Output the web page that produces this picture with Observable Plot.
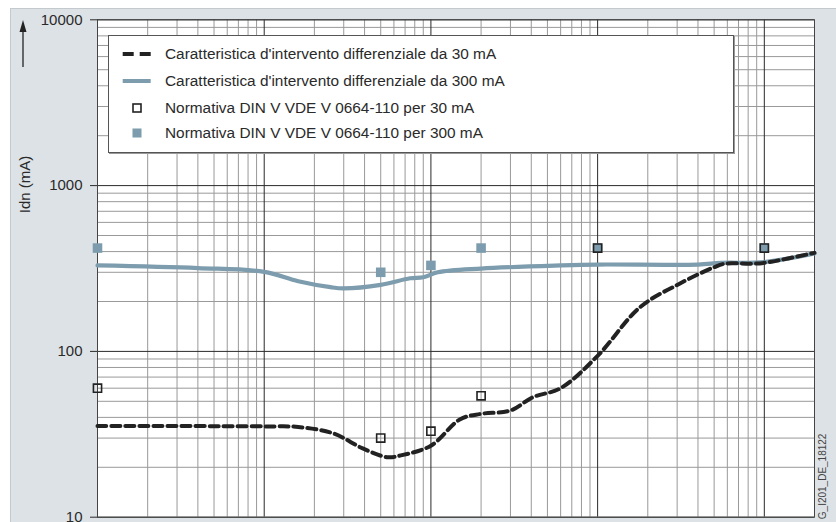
<!DOCTYPE html>
<html>
<head>
<meta charset="utf-8">
<script src="https://cdn.jsdelivr.net/npm/d3@7"></script>
<script src="https://cdn.jsdelivr.net/npm/@observablehq/plot@0.6"></script>
<style>
  html, body { margin: 0; padding: 0; background: #fff; }
  body { width: 836px; height: 522px; position: relative; overflow: hidden; font-family: "Liberation Sans", Arial, sans-serif; }
  #panel { position: absolute; left: 10px; top: 8px; width: 826px; height: 514px; background: #dde2e6; border-top: 1px solid #c4c9cd; border-left: 1px solid #c4c9cd; box-sizing: border-box; }
  #chart { position: absolute; left: 10px; top: 8px; }
  #legend { position: absolute; left: 108px; top: 35px; width: 626px; height: 118px; background: #fff; border: 1px solid #555; box-shadow: 1px 1px 0 #999; box-sizing: border-box; }
  .row { position: absolute; left: 0; height: 20px; display: flex; align-items: center; font-size: 15.4px; color: #2a2a2a; white-space: nowrap; }
  .row svg { width: 56px; height: 20px; margin-left: 0; flex: none; }
  #arrow { position: absolute; left: 0; top: 0; }
</style>
</head>
<body>
<div id="panel"></div>
<div id="chart"></div>
<svg id="arrow" width="40" height="80">
  <line x1="23" y1="67" x2="23" y2="30" stroke="#222" stroke-width="1.3"/>
  <polygon points="23,20 19.5,32 26.5,32" fill="#222"/>
</svg>
<div id="legend"></div>
<script>
// frequency (Hz) and tripping current (mA)
const curve30x = [1, 10, 16, 26, 39, 55, 66, 100, 150, 200, 300, 410, 600, 1000, 1800, 3100, 5000, 5800, 8300, 10000, 20000];
const curve30y = [35.5, 35.3, 35, 32, 26, 23, 23.6, 27, 39, 42, 44, 53, 60, 94, 185, 256, 322, 338, 338, 342, 393];
const curve300x = [1, 4, 10, 16, 25, 30, 50, 75, 90, 110, 200, 600, 1000, 4000, 5500, 10000, 20000];
const curve300y = [330, 318, 302, 265, 244, 240, 252, 276, 280, 300, 316, 330, 334, 334, 342, 346, 390];
const norm30x = [1, 50, 100, 200, 1000, 10000];
const norm30y = [60, 30, 33, 54, 420, 420];
const norm300x = [1, 50, 100, 200, 1000, 10000];
const norm300y = [420, 300, 330, 420, 420, 420];
const yTicks = [10, 100, 1000, 10000];
const seriesLabels = [
  "Caratteristica d'intervento differenziale da 30 mA",
  "Caratteristica d'intervento differenziale da 300 mA",
  "Normativa DIN V VDE V 0664-110 per 30 mA",
  "Normativa DIN V VDE V 0664-110 per 300 mA"
];
const yLabel = "Idn (mA)";
const codeLabel = "G_I201_DE_18122";

const BLUE = "#7d9cad";
const BLACK = "#222";

const c30 = curve30x.map((x, i) => ({x, y: curve30y[i]}));
const c300 = curve300x.map((x, i) => ({x, y: curve300y[i]}));
const n30 = norm30x.map((x, i) => ({x, y: norm30y[i]}));
const n300 = norm300x.map((x, i) => ({x, y: norm300y[i]}));

// grid values (log decades)
const xMajor = [1, 10, 100, 1000, 10000];
const xMinor = [];
for (const d of [1, 10, 100, 1000, 10000]) for (let k = 2; k <= 9; k++) if (d * k <= 20000) xMinor.push(d * k);
const yMinor = [];
for (const d of [10, 100, 1000]) for (let k = 2; k <= 9; k++) yMinor.push(d * k);

const chart = Plot.plot({
  width: 826,
  height: 514,
  marginLeft: 87,
  marginRight: 22,
  marginTop: 11.3,
  marginBottom: 5.3,
  style: {background: "transparent", fontFamily: "Liberation Sans, Arial, sans-serif"},
  x: {type: "log", domain: [1, 20000], axis: null},
  y: {type: "log", domain: [10, 10000], axis: null},
  marks: [
    Plot.frame({fill: "white"}),
    Plot.ruleX(xMinor, {stroke: "#999", strokeWidth: 1}),
    Plot.ruleY(yMinor, {stroke: "#999", strokeWidth: 1}),
    Plot.ruleX(xMajor, {stroke: "#2a2a2a", strokeWidth: 1}),
    Plot.ruleY(yTicks, {stroke: "#2a2a2a", strokeWidth: 1}),
    Plot.frame({stroke: "#444", strokeWidth: 1}),
    Plot.line(c300, {x: "x", y: "y", stroke: BLUE, strokeWidth: 4.2, curve: "catmull-rom"}),
    Plot.line(c30, {x: "x", y: "y", stroke: BLACK, strokeWidth: 4, strokeDasharray: "9,5", curve: "catmull-rom"}),
    Plot.dot(n300, {x: "x", y: "y", symbol: "square", r: 5.4, fill: BLUE, stroke: "none"}),
    Plot.dot(n30, {x: "x", y: "y", symbol: "square", r: 4.6, fill: "none", stroke: BLACK, strokeWidth: 1.6}),
    Plot.axisY({ticks: yTicks, tickFormat: d => String(d), tickSize: 7, tickPadding: 8, fontSize: 15, color: "#2a2a2a", label: null, anchor: "left"}),
    Plot.text([yLabel], {frameAnchor: "left", text: d => d, rotate: -90, dx: -72, dy: -84, fontSize: 15, fill: "#2a2a2a", textAnchor: "middle", lineAnchor: "middle"}),
    Plot.text([codeLabel], {frameAnchor: "bottom-right", text: d => d, rotate: -90, dx: 8, dy: 2, fontSize: 10, fill: "#444", textAnchor: "start", lineAnchor: "middle"})
  ]
});
document.getElementById("chart").appendChild(chart);

// legend
const legend = document.getElementById("legend");
const symbols = [
  `<svg viewBox="0 0 56 20"><line x1="13.7" y1="10" x2="41.7" y2="10" stroke="${BLACK}" stroke-width="4" stroke-dasharray="11,6"/></svg>`,
  `<svg viewBox="0 0 56 20"><line x1="13.7" y1="10" x2="41.7" y2="10" stroke="${BLUE}" stroke-width="4"/></svg>`,
  `<svg viewBox="0 0 56 20"><rect x="24" y="6" width="8" height="8" fill="white" stroke="${BLACK}" stroke-width="1.6"/></svg>`,
  `<svg viewBox="0 0 56 20"><rect x="23.5" y="5.5" width="9" height="9" fill="${BLUE}"/></svg>`
];
const rowTops = [7.5, 35, 61.5, 87];
seriesLabels.forEach((label, i) => {
  const row = document.createElement("div");
  row.className = "row";
  row.style.top = rowTops[i] + "px";
  row.innerHTML = symbols[i] + `<span>${label}</span>`;
  legend.appendChild(row);
});
</script>
</body>
</html>
